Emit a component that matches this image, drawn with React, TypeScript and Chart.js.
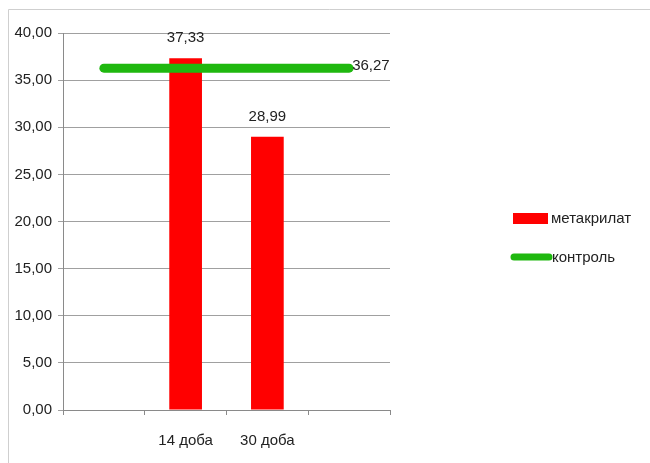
import React, { useEffect, useRef } from "react";
import { Chart, registerables } from "chart.js";

Chart.register(...registerables);

const categories = ["", "14 доба", "30 доба", ""];
const metakrylatValues = [null, 37.33, 28.99, null];
const kontrolValues = [36.27, 36.27, 36.27, 36.27];
const metakrylatLabels = ["", "37,33", "28,99", ""];
const kontrolLabels = ["", "", "", "36,27"];
const seriesNames = ["метакрилат", "контроль"];
const yMin = 0;
const yMax = 40;
const yStep = 5;

const FONT = "'Liberation Sans Narrow', 'Liberation Sans', Arial, sans-serif";

const fmt = (v: number) => v.toFixed(2).replace(".", ",");

export default function App() {
  const ref = useRef<HTMLCanvasElement | null>(null);
  useEffect(() => {
    if (!ref.current) return;
    const decor = {
      id: "decor",
      beforeDraw(chart: any) {
        const ctx = chart.ctx;
        ctx.save();
        ctx.strokeStyle = "#cfcfcf";
        ctx.lineWidth = 1;
        ctx.beginPath();
        ctx.moveTo(8.5, 463);
        ctx.lineTo(8.5, 9.5);
        ctx.lineTo(650, 9.5);
        ctx.stroke();
        ctx.restore();
      },
      afterDatasetsDraw(chart: any) {
        const ctx = chart.ctx;
        ctx.save();
        ctx.font = "15px " + FONT;
        ctx.fillStyle = "#222";
        const m0 = chart.getDatasetMeta(0);
        m0.data.forEach((el: any, i: number) => {
          const t = metakrylatLabels[i];
          if (!t) return;
          ctx.textAlign = "center";
          ctx.textBaseline = "middle";
          ctx.fillText(t, el.x, el.y - 20);
        });
        const m1 = chart.getDatasetMeta(1);
        m1.data.forEach((el: any, i: number) => {
          const t = kontrolLabels[i];
          if (!t) return;
          ctx.textAlign = "left";
          ctx.textBaseline = "middle";
          ctx.fillText(t, el.x + 3, el.y - 2);
        });
        // legend
        const lx = chart.chartArea.right + 123;
        ctx.fillStyle = "#ff0000";
        ctx.fillRect(lx, 213, 35, 11);
        ctx.strokeStyle = "#1fb80f";
        ctx.lineWidth = 7;
        ctx.lineCap = "round";
        ctx.beginPath();
        ctx.moveTo(lx + 1, 257);
        ctx.lineTo(lx + 36, 257);
        ctx.stroke();
        ctx.fillStyle = "#222";
        ctx.textAlign = "left";
        ctx.textBaseline = "middle";
        ctx.fillText(seriesNames[0], lx + 38, 219);
        ctx.fillText(seriesNames[1], lx + 39, 258);
        ctx.restore();
      },
    };
    const chart = new Chart(ref.current, {
      type: "bar",
      data: {
        labels: categories,
        datasets: [
          {
            type: "bar",
            label: seriesNames[0],
            data: metakrylatValues as any,
            backgroundColor: "#ff0000",
            barPercentage: 0.4,
            categoryPercentage: 1,
            order: 2,
          },
          {
            type: "line",
            label: seriesNames[1],
            data: kontrolValues,
            borderColor: "#1fb80f",
            borderWidth: 9,
            borderCapStyle: "round",
            pointRadius: 0,
            fill: false,
            order: 1,
          } as any,
        ],
      },
      options: {
        animation: false,
        responsive: false,
        layout: { padding: { top: 33, right: 260, bottom: 0, left: 0 } },
        plugins: { legend: { display: false }, tooltip: { enabled: false } },
        scales: {
          x: {
            offset: true,
            grid: {
              offset: true,
              drawOnChartArea: false,
              drawTicks: true,
              tickLength: 5,
              color: "#8a8a8a",
            },
            border: { color: "#8a8a8a" },
            ticks: { color: "#222", font: { family: FONT, size: 15 }, padding: 17 },
            afterFit(s: any) {
              s.height = 53;
            },
          },
          y: {
            min: yMin,
            max: yMax,
            ticks: {
              stepSize: yStep,
              color: "#222",
              font: { family: FONT, size: 15 },
              padding: 6,
              callback: (v: any) => fmt(Number(v)),
            },
            grid: { color: "#a0a0a0", tickLength: 5 },
            border: { color: "#8a8a8a" },
            afterFit(s: any) {
              s.width = 63;
            },
          },
        },
      },
      plugins: [decor],
    });
    return () => chart.destroy();
  }, []);
  return (
    <canvas
      ref={ref}
      width={650}
      height={463}
      style={{ position: "absolute", left: 0, top: 0, background: "#fff" }}
    />
  );
}
